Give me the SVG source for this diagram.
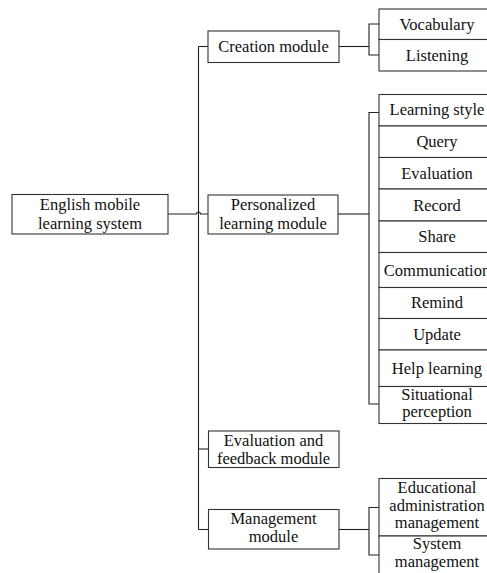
<svg xmlns="http://www.w3.org/2000/svg" width="487" height="573" viewBox="0 0 487 573">
<style>
rect{fill:#fff;stroke:#333;stroke-width:1.1}
text{font-size:16.5px;fill:#111;text-anchor:middle}
.c path{fill:none;stroke:#222;stroke-width:1.1}
</style>
<rect x="0" y="0" width="487" height="573" style="stroke:none"/>
<g class="c" id="connectors">
<path d="M198.5,46.5 V529.5"/>
<path d="M198.5,46.5 H208"/>
<path d="M168,214 H196.5 A2,2 0 0 1 200.5,214 H208"/>
<path d="M198.5,449 H208"/>
<path d="M198.5,529.5 H208"/>
<path d="M339,46.5 H369"/>
<path d="M379,24 H369 V55 H379"/>
<path d="M338,214 H369"/>
<path d="M379,112.5 H369 V404 H379"/>
<path d="M339,529.5 H369"/>
<path d="M379,507.5 H369 V555 H379"/>
</g>
<g font-family="'Liberation Serif', 'Times New Roman', 'DejaVu Serif', serif">
<g id="root"><rect x="12" y="194.5" width="156" height="39.5"/><text x="90" y="210">English mobile</text><text x="90" y="229">learning system</text></g>
<g id="creation"><rect x="208" y="31" width="131" height="31.5"/><text x="273.5" y="52">Creation module</text></g>
<g id="personalized"><rect x="208" y="195" width="130" height="39"/><text x="273" y="210">Personalized</text><text x="273" y="229">learning module</text></g>
<g id="evaluation-feedback"><rect x="208.5" y="431" width="130.5" height="36.5"/><text x="273.5" y="446">Evaluation and</text><text x="273.5" y="463.5">feedback module</text></g>
<g id="management"><rect x="208.5" y="509.5" width="130.5" height="39.5"/><text x="273.5" y="523.5">Management</text><text x="273.5" y="541.5">module</text></g>
<g id="vocabulary"><rect x="379" y="9" width="117" height="30.5"/><text x="437" y="29.5">Vocabulary</text></g>
<g id="listening"><rect x="379" y="39.5" width="117" height="31.5"/><text x="437" y="60.5">Listening</text></g>
<g id="learning-style"><rect x="379" y="94.5" width="117" height="31.5"/><text x="437" y="115">Learning style</text></g>
<g id="query"><rect x="379" y="126" width="117" height="31.5"/><text x="437" y="147">Query</text></g>
<g id="evaluation"><rect x="379" y="157.5" width="117" height="31.5"/><text x="437" y="178.5">Evaluation</text></g>
<g id="record"><rect x="379" y="189" width="117" height="32"/><text x="437" y="210.5">Record</text></g>
<g id="share"><rect x="379" y="221" width="117" height="31.5"/><text x="437" y="242">Share</text></g>
<g id="communication"><rect x="379" y="252.5" width="117" height="35"/><text x="437" y="275.5">Communication</text></g>
<g id="remind"><rect x="379" y="287.5" width="117" height="31"/><text x="437" y="308">Remind</text></g>
<g id="update"><rect x="379" y="318.5" width="117" height="31.5"/><text x="437" y="339.5">Update</text></g>
<g id="help-learning"><rect x="379" y="350" width="117" height="36.5"/><text x="437" y="373.5">Help learning</text></g>
<g id="situational-perception"><rect x="379" y="386.5" width="117" height="37"/><text x="437" y="400">Situational</text><text x="437" y="417">perception</text></g>
<g id="educational-admin"><rect x="379" y="478.5" width="117" height="57.5"/><text x="437" y="492.5">Educational</text><text x="437" y="510.5">administration</text><text x="437" y="528">management</text></g>
<g id="system-management"><rect x="379" y="536" width="117" height="60"/><text x="437" y="548.5">System</text><text x="437" y="566.5">management</text></g>
</g>
</svg>
